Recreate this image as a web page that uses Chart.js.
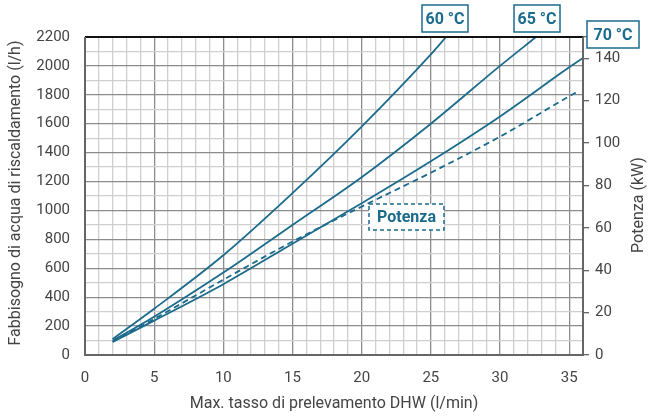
<!DOCTYPE html>
<html>
<head>
<meta charset="utf-8">
<script src="https://cdn.jsdelivr.net/npm/chart.js@4.4.1/dist/chart.umd.min.js"></script>
<style>
  html, body { margin: 0; padding: 0; background: #fff; }
  #wrap { width: 648px; height: 417px; }
</style>
</head>
<body>
<div id="wrap"><canvas id="grafico" width="648" height="417"></canvas></div>
<script>
// Dati
var x60 = [2, 5, 10, 15, 20, 25, 26.1];
var y60 = [110, 320, 690, 1120, 1580, 2080, 2200];

var x65 = [2, 5, 10, 15, 20, 25, 30, 32.6];
var y65 = [100, 265, 570, 900, 1230, 1600, 2000, 2200];

var x70 = [2, 5, 10, 15, 20, 25, 30, 35, 36];
var y70 = [90, 238, 490, 770, 1050, 1340, 1650, 1990, 2055];

var xPotenza = [2, 5, 10, 15, 20, 25, 30, 35, 35.7];
var potenzaKw = [6.3, 17, 35.5, 53.5, 70, 86, 103, 122, 124.5];

var etichette = ['60 °C', '65 °C', '70 °C'];

var BLU = '#1b6b8c';
var FONT = 'Roboto, "DejaVu Sans", sans-serif';

function punti(xs, ys) {
    return xs.map(function(x, i) { return { x: x, y: ys[i] }; });
}

function serie(label, xs, ys, asse, tratteggio) {
    return {
        label: label,
        data: punti(xs, ys),
        yAxisID: asse,
        borderColor: BLU,
        borderWidth: 1.8,
        borderDash: tratteggio ? [6, 4] : [],
        pointRadius: 0,
        fill: false,
        cubicInterpolationMode: 'monotone'
    };
}

// Riquadri con le etichette
function riquadro(ctx, testo, x, y, w, h, tratteggio) {
    ctx.save();
    ctx.fillStyle = '#fff';
    ctx.fillRect(x, y, w, h);
    ctx.strokeStyle = BLU;
    ctx.lineWidth = 1.5;
    ctx.setLineDash(tratteggio ? [4, 3] : []);
    ctx.strokeRect(x, y, w, h);
    ctx.setLineDash([]);
    ctx.fillStyle = BLU;
    ctx.font = 'bold 16px ' + FONT;
    ctx.textAlign = 'center';
    ctx.textBaseline = 'middle';
    ctx.fillText(testo, x + w / 2, y + h / 2 + 1);
    ctx.restore();
}

var extra = {
    id: 'extra',
    afterDatasetsDraw: function(chart) {
        var ctx = chart.ctx;
        var a = chart.chartArea;
        ctx.save();
        // bordo del grafico
        ctx.lineWidth = 2;
        ctx.strokeStyle = '#111';
        ctx.beginPath(); ctx.moveTo(a.left, a.top); ctx.lineTo(a.right, a.top); ctx.stroke();
        ctx.strokeStyle = '#666';
        ctx.beginPath(); ctx.moveTo(a.left, a.top); ctx.lineTo(a.left, a.bottom); ctx.lineTo(a.right, a.bottom); ctx.lineTo(a.right, a.top); ctx.stroke();

        // titoli degli assi
        ctx.fillStyle = '#444';
        ctx.font = '16px ' + FONT;
        ctx.textAlign = 'center';
        ctx.textBaseline = 'middle';
        ctx.fillText('Max. tasso di prelevamento DHW (l/min)', (a.left + a.right) / 2, 404);
        ctx.save();
        ctx.translate(16, 193);
        ctx.rotate(-Math.PI / 2);
        ctx.fillText('Fabbisogno di acqua di riscaldamento (l/h)', 0, 0);
        ctx.restore();
        ctx.save();
        ctx.translate(639, 205);
        ctx.rotate(-Math.PI / 2);
        ctx.fillText('Potenza (kW)', 0, 0);
        ctx.restore();
        ctx.restore();

        riquadro(ctx, etichette[0], 422, 5, 46, 27, false);
        riquadro(ctx, etichette[1], 514, 5, 46, 27, false);
        riquadro(ctx, etichette[2], 587, 21, 52, 27, false);
        riquadro(ctx, 'Potenza', 369, 204, 75, 26, true);
    }
};

var ctx = document.getElementById('grafico').getContext('2d');

new Chart(ctx, {
    type: 'line',
    data: {
        datasets: [
            serie('60 °C', x60, y60, 'y', false),
            serie('65 °C', x65, y65, 'y', false),
            serie('70 °C', x70, y70, 'y', false),
            serie('Potenza', xPotenza, potenzaKw, 'y2', true)
        ]
    },
    options: {
        responsive: false,
        animation: false,
        layout: { padding: { top: 37, left: 0, right: 0, bottom: 0 } },
        plugins: {
            legend: { display: false },
            tooltip: { enabled: false }
        },
        scales: {
            x: {
                type: 'linear',
                min: 0,
                max: 36,
                afterFit: function(scale) { scale.height = 62; },
                grid: {
                    color: function(c) { return c.tick.value % 5 === 0 ? '#8c8c8c' : '#cfcfcf'; },
                    lineWidth: 1.3,
                    drawTicks: false
                },
                border: { display: false },
                ticks: {
                    stepSize: 1,
                    autoSkip: false,
                    maxRotation: 0,
                    padding: 14,
                    color: '#444',
                    font: { family: FONT, size: 15 },
                    callback: function(v) { return v % 5 === 0 ? v : ''; }
                }
            },
            y: {
                position: 'left',
                min: 0,
                max: 2200,
                afterFit: function(scale) { scale.width = 85; },
                grid: {
                    color: function(c) { return c.tick.value % 200 === 0 ? '#8c8c8c' : '#cfcfcf'; },
                    lineWidth: 1.3,
                    drawTicks: false
                },
                border: { display: false },
                ticks: {
                    stepSize: 100,
                    autoSkip: false,
                    padding: 15,
                    color: '#444',
                    font: { family: FONT, size: 15 },
                    callback: function(v) { return v % 200 === 0 ? v : ''; }
                }
            },
            y2: {
                position: 'right',
                min: 0,
                max: 150,
                afterFit: function(scale) { scale.width = 65; },
                grid: {
                    drawOnChartArea: false,
                    drawTicks: true,
                    tickLength: 6,
                    color: '#666',
                    lineWidth: 1.3
                },
                border: { display: false },
                ticks: {
                    stepSize: 20,
                    autoSkip: false,
                    padding: 6,
                    color: '#444',
                    font: { family: FONT, size: 15 },
                    callback: function(v) { return v % 20 === 0 ? v : ''; }
                }
            }
        }
    },
    plugins: [extra]
});
</script>
</body>
</html>
